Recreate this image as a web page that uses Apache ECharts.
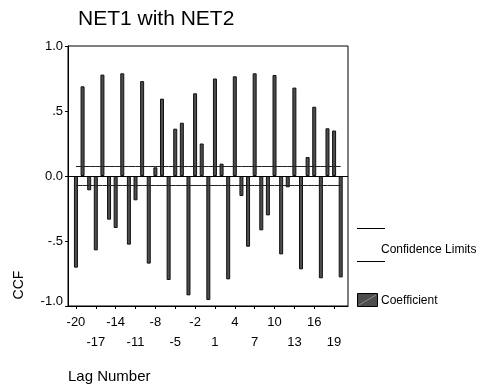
<!DOCTYPE html>
<html>
<head>
<meta charset="utf-8">
<script src="https://cdn.jsdelivr.net/npm/echarts@6/dist/echarts.min.js"></script>
<style>
  html, body { margin: 0; padding: 0; background: #fff; }
  #main { width: 479px; height: 389px; }
</style>
</head>
<body>
<div id="main"></div>
<script>
// lags -20..20 and the cross correlation
var lags = [];
for (var k = -20; k <= 20; k++) lags.push(k);
var ccf = [
  -0.705, 0.69, -0.11, -0.572, 0.78, -0.336, -0.40, 0.79, -0.528, -0.187,
  0.73, -0.674, 0.067, 0.595, -0.80, 0.364, 0.41, -0.918, 0.636, 0.25,
  -0.954,
  0.75, 0.095, -0.795, 0.767, -0.154, -0.544, 0.79, -0.418, -0.303, 0.777,
  -0.603, -0.087, 0.68, -0.718, 0.146, 0.533, -0.787, 0.367, 0.35, -0.78
];
var confLimit = 0.073;
var xTicks = [-20, -17, -14, -11, -8, -5, -2, 1, 4, 7, 10, 13, 16, 19];
var yTickText = { '1': '1.0', '0.5': '.5', '0': '0.0', '-0.5': '-.5', '-1': '{lo|-1.0}' };

var font = 'Liberation Sans, Arial, sans-serif';
var chart = echarts.init(document.getElementById('main'));

var option = {
  animation: false,
  backgroundColor: '#fff',
  textStyle: { fontFamily: font, color: '#000' },
  title: {
    text: 'NET1 with NET2',
    left: 78, top: 9, padding: 0,
    textStyle: { fontFamily: font, fontSize: 21, fontWeight: 'normal', color: '#000' }
  },
  grid: {
    left: 68, right: 131, top: 46, bottom: 83,
    show: true, borderColor: '#000', borderWidth: 1
  },
  xAxis: {
    type: 'value',
    min: -21.2, max: 21.1,
    splitLine: { show: false },
    axisLine: { onZero: false, lineStyle: { color: '#000', width: 1 } },
    axisTick: { show: true, customValues: xTicks, length: 3, lineStyle: { color: '#000' } },
    axisLabel: {
      customValues: xTicks,
      margin: 6,
      fontFamily: font, fontSize: 13, color: '#000', lineHeight: 20,
      formatter: function (v) {
        var i = Math.round((v + 20) / 3);
        return i % 2 ? '\n' + v : String(v);
      }
    }
  },
  yAxis: {
    type: 'value',
    min: -1, max: 1, interval: 0.5,
    splitLine: { show: false },
    axisLine: { show: true, onZero: false, lineStyle: { color: '#000', width: 1 } },
    axisTick: { show: true, length: 3, lineStyle: { color: '#000' } },
    axisLabel: {
      margin: 5,
      fontFamily: font, fontSize: 13, color: '#000',
      formatter: function (v) { return yTickText[String(v)]; },
      rich: { lo: { fontFamily: font, fontSize: 13, color: '#000', padding: [0, 0, 10, 0] } }
    }
  },
  series: [
    {
      type: 'bar',
      name: 'Coefficient',
      barWidth: 4,
      data: lags.map(function (l, i) { return [l, ccf[i]]; }),
      itemStyle: { color: '#4d4d4d', borderColor: '#111', borderWidth: 1 },
      markLine: {
        silent: true, symbol: 'none',
        label: { show: false },
        lineStyle: { color: '#000', width: 1, type: 'solid' },
        data: [{ yAxis: 0 }]
      },
      z: 2
    },
    {
      type: 'line',
      name: 'Upper',
      data: lags.map(function (l) { return [l, confLimit]; }),
      showSymbol: false,
      lineStyle: { color: '#222', width: 1 },
      z: 3
    },
    {
      type: 'line',
      name: 'Lower',
      data: lags.map(function (l) { return [l, -confLimit]; }),
      showSymbol: false,
      lineStyle: { color: '#222', width: 1 },
      z: 3
    }
  ],
  graphic: [
    // axis titles
    {
      type: 'text', left: 68, top: 369,
      style: { text: 'Lag Number', font: '15px ' + font, fill: '#000' }
    },
    {
      type: 'text', x: 19, y: 285, rotation: Math.PI / 2,
      style: { text: 'CCF', font: '14px ' + font, fill: '#000', align: 'center', verticalAlign: 'middle' }
    },
    // legend
    { type: 'line', shape: { x1: 357, y1: 228.5, x2: 385, y2: 228.5 }, style: { stroke: '#000', lineWidth: 1 } },
    { type: 'line', shape: { x1: 357, y1: 261.5, x2: 385, y2: 261.5 }, style: { stroke: '#000', lineWidth: 1 } },
    {
      type: 'text', x: 381, y: 250,
      style: { text: 'Confidence Limits', font: '12px ' + font, fill: '#000', verticalAlign: 'middle' }
    },
    {
      type: 'rect', shape: { x: 357.5, y: 293.5, width: 20, height: 13 },
      style: { fill: '#4d4d4d', stroke: '#000', lineWidth: 1 }
    },
    { type: 'line', shape: { x1: 359, y1: 305, x2: 376, y2: 295 }, style: { stroke: '#8a8a8a', lineWidth: 1 } },
    {
      type: 'text', x: 381, y: 300.5,
      style: { text: 'Coefficient', font: '12px ' + font, fill: '#000', verticalAlign: 'middle' }
    }
  ]
};

chart.setOption(option);
</script>
</body>
</html>
